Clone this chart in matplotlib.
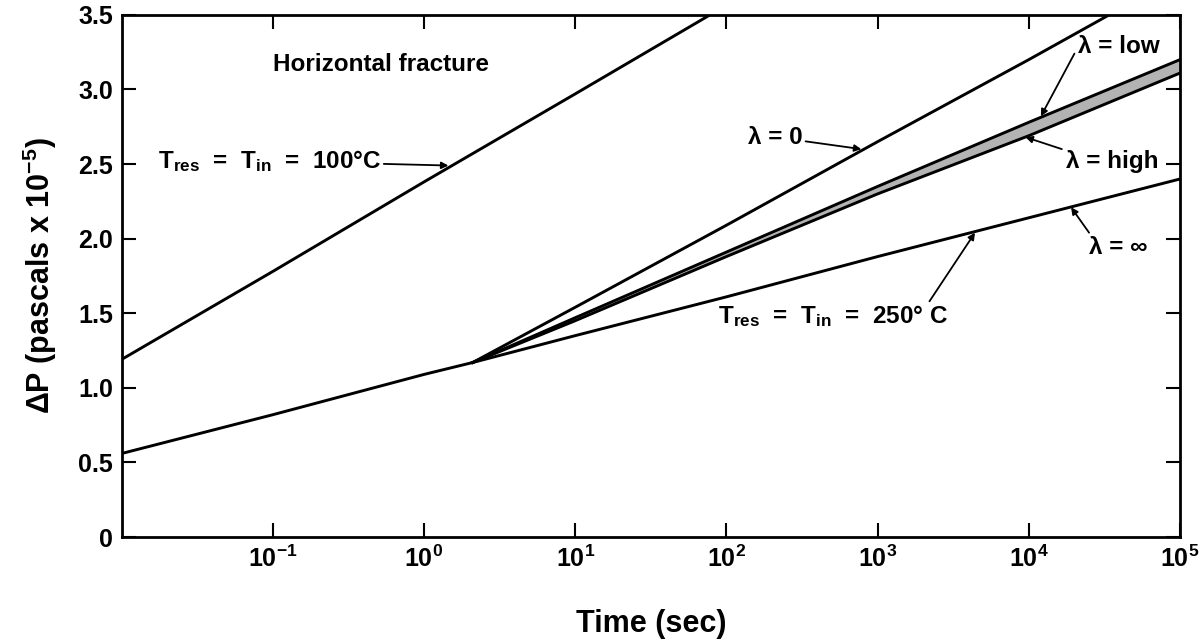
import numpy as np
import matplotlib
matplotlib.use("Agg")
import matplotlib.pyplot as plt
from matplotlib.ticker import FixedLocator, FixedFormatter

plt.rcParams['font.family'] = ['Liberation Sans', 'DejaVu Sans']
plt.rcParams['font.weight'] = 'bold'
plt.rcParams['mathtext.fontset'] = 'custom'
plt.rcParams['mathtext.rm'] = 'Liberation Sans:bold'
plt.rcParams['mathtext.bf'] = 'Liberation Sans:bold'
plt.rcParams['mathtext.it'] = 'Liberation Sans:bold'
plt.rcParams['mathtext.default'] = 'bf'

# -----------------------------
# data
# -----------------------------
t_100 = [1e-2, 1e-1, 1, 10, 78]
dp_100 = [1.19, 1.78, 2.38, 2.97, 3.50]

t_250 = [1e-2, 1e-1, 1, 2.1, 10, 100, 1e3, 1e4, 1e5]
dp_250 = [0.56, 0.82, 1.09, 1.17, 1.35, 1.61, 1.88, 2.14, 2.40]

t_lam0 = [2.1, 10, 100, 1e3, 1e4, 3.4e4]
dp_lam0 = [1.17, 1.54, 2.09, 2.65, 3.20, 3.50]

t_band = [2.1, 10, 100, 1e3, 1e4, 1e5]
dp_low = [1.17, 1.47, 1.91, 2.35, 2.78, 3.20]
dp_high = [1.17, 1.45, 1.88, 2.30, 2.69, 3.11]

x_ticks = [1e-1, 1, 10, 100, 1e3, 1e4, 1e5]
x_labels = ['$10^{-1}$', '$10^{0}$', '$10^{1}$', '$10^{2}$',
            '$10^{3}$', '$10^{4}$', '$10^{5}$']
y_ticks = [0, 0.5, 1.0, 1.5, 2.0, 2.5, 3.0, 3.5]
y_labels = ['0', '0.5', '1.0', '1.5', '2.0', '2.5', '3.0', '3.5']

# -----------------------------
# plot
# -----------------------------
fig = plt.figure(figsize=(12.03, 6.44), dpi=100)
ax = fig.add_axes([0.101, 0.166, 0.880, 0.811])

LW = 2.1
ax.plot(t_100, dp_100, 'k-', lw=LW)
ax.plot(t_250, dp_250, 'k-', lw=LW)
ax.plot(t_lam0, dp_lam0, 'k-', lw=LW)
ax.plot(t_band, dp_low, 'k-', lw=LW)
ax.plot(t_band, dp_high, 'k-', lw=LW)
ax.fill_between(t_band, dp_high, dp_low, color='0.7', lw=0)

ax.set_xscale('log')
ax.set_xlim(1e-2, 1e5)
ax.set_ylim(0, 3.5)

ax.xaxis.set_major_locator(FixedLocator(x_ticks))
ax.xaxis.set_major_formatter(FixedFormatter(x_labels))
ax.xaxis.set_minor_locator(FixedLocator([]))
ax.yaxis.set_major_locator(FixedLocator(y_ticks))
ax.yaxis.set_major_formatter(FixedFormatter(y_labels))

ax.tick_params(which='major', direction='in', length=10, width=1.5,
               top=True, right=True, labelsize=18, pad=6)
for lab in ax.get_yticklabels():
    lab.set_fontweight('bold')
for sp in ax.spines.values():
    sp.set_linewidth(2)

ax.set_xlabel('Time (sec)', fontsize=22, fontweight='bold', labelpad=27)
ax.set_ylabel('ΔP (pascals x 10$^{-5}$)', fontsize=22, fontweight='bold',
              labelpad=14)

# -----------------------------
# labels and arrows
# -----------------------------
FS = 17.5
arrow = dict(arrowstyle='-|>', color='k', lw=1.3, mutation_scale=10,
             shrinkA=0, shrinkB=0)

ax.text(0.1, 3.17, 'Horizontal fracture', fontsize=FS, va='center')

ax.annotate('T$_{res}$  =  T$_{in}$  =  100°C', xy=(1.45, 2.49),
            xytext=(0.52, 2.52), fontsize=FS, ha='right', va='center',
            arrowprops=arrow)

ax.annotate('λ = 0', xy=(780, 2.60), xytext=(320, 2.68),
            fontsize=FS, ha='right', va='center', arrowprops=arrow)

ax.text(2.1e4, 3.29, 'λ = low', fontsize=FS, ha='left', va='center')
ax.annotate('', xy=(1.2e4, 2.82), xytext=(2.0e4, 3.24), arrowprops=arrow)

ax.text(1.75e4, 2.52, 'λ = high', fontsize=FS, ha='left', va='center')
ax.annotate('', xy=(9.5e3, 2.68), xytext=(1.65e4, 2.60), arrowprops=arrow)

ax.text(2.5e4, 1.94, 'λ = ∞', fontsize=FS, ha='left', va='center')
ax.annotate('', xy=(1.9e4, 2.21), xytext=(2.5e4, 2.04), arrowprops=arrow)

ax.text(88, 1.48, 'T$_{res}$  =  T$_{in}$  =  250° C', fontsize=FS, va='center')
ax.annotate('', xy=(4.4e3, 2.04), xytext=(2.2e3, 1.58), arrowprops=arrow)

fig.savefig('out.png', dpi=100)
